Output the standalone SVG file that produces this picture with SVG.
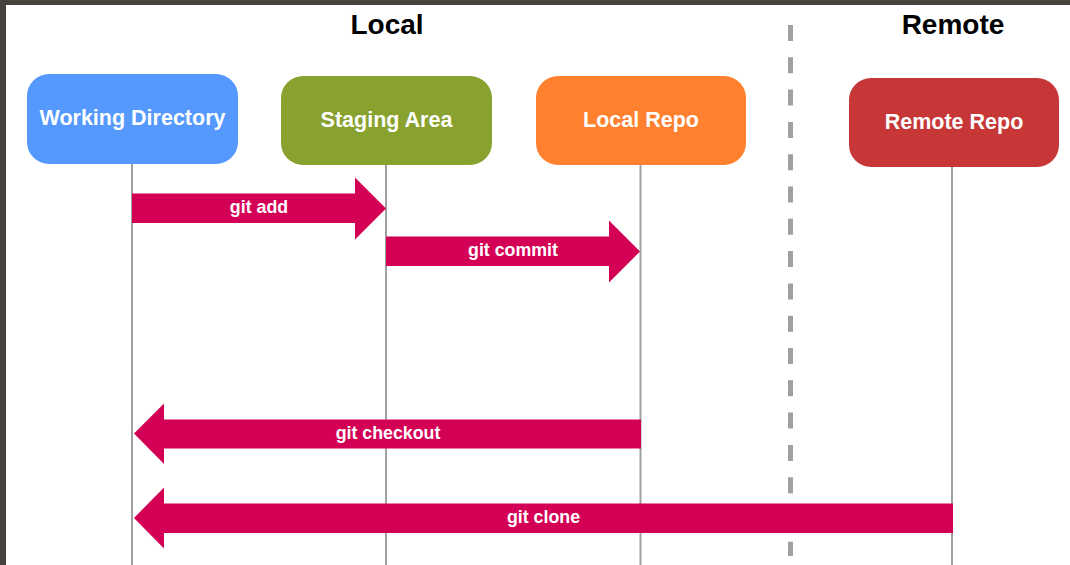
<svg xmlns="http://www.w3.org/2000/svg" width="1070" height="565" viewBox="0 0 1070 565">
<style>
.node-label{font-family:"Liberation Sans",Arial,sans-serif;font-weight:bold;font-size:21.5px;fill:#ffffff;text-anchor:middle}
.title{font-family:"Liberation Sans",Arial,sans-serif;font-weight:bold;font-size:28px;fill:#000000;text-anchor:middle}
.arrow{fill:#d40055}
.arrow-label{font-family:"Liberation Sans",Arial,sans-serif;font-weight:bold;font-size:17.8px;fill:#ffffff;text-anchor:middle}
.lifeline{stroke:#a0a0a0;stroke-width:2;fill:none}
</style>
<rect x="0" y="0" width="1070" height="565" fill="#ffffff"/>
<rect x="0" y="0" width="1070" height="5" fill="#46423e"/>
<rect x="0" y="0" width="6" height="565" fill="#46423e"/>
<text class="title" x="387" y="34">Local</text>
<text class="title" x="953" y="34">Remote</text>
<line x1="790.5" y1="25" x2="790.5" y2="556" stroke="#a0a0a0" stroke-width="5" stroke-dasharray="16 16.3"/>
<g id="lifelines">
<line class="lifeline" x1="132" y1="164" x2="132" y2="565"/>
<line class="lifeline" x1="386" y1="165" x2="386" y2="565"/>
<line class="lifeline" x1="640.5" y1="165" x2="640.5" y2="565"/>
<line class="lifeline" x1="952" y1="167" x2="952" y2="565"/>
</g>
<g id="working-directory">
<rect x="27" y="74" width="211" height="90" rx="22" fill="#5599ff"/>
<text class="node-label" x="132.5" y="125">Working Directory</text>
</g>
<g id="staging-area">
<rect x="281" y="76" width="211" height="89" rx="22" fill="#89a12f"/>
<text class="node-label" x="386.5" y="127">Staging Area</text>
</g>
<g id="local-repo">
<rect x="536" y="76" width="210" height="89" rx="22" fill="#ff8130"/>
<text class="node-label" x="641" y="127">Local Repo</text>
</g>
<g id="remote-repo">
<rect x="849" y="78" width="210" height="89" rx="22" fill="#c73737"/>
<text class="node-label" x="954" y="129">Remote Repo</text>
</g>
<g id="connectors">
<g id="git-add">
<polygon class="arrow" points="132,193.5 355,193.5 355,177.5 386,208.5 355,239.5 355,223 132,223"/>
<text class="arrow-label" x="259" y="213">git add</text>
</g>
<g id="git-commit">
<polygon class="arrow" points="386,236.5 609,236.5 609,220.5 640,251.5 609,282.5 609,266 386,266"/>
<text class="arrow-label" x="513" y="256">git commit</text>
</g>
<g id="git-checkout">
<polygon class="arrow" points="641,419.5 164,419.5 164,403.5 134,433.5 164,464 164,448.5 641,448.5"/>
<text class="arrow-label" x="388" y="438.5">git checkout</text>
</g>
<g id="git-clone">
<polygon class="arrow" points="953,503.5 164,503.5 164,487.5 134,518 164,548.5 164,533 953,533"/>
<text class="arrow-label" x="543.5" y="523">git clone</text>
</g>
</g>
</svg>
